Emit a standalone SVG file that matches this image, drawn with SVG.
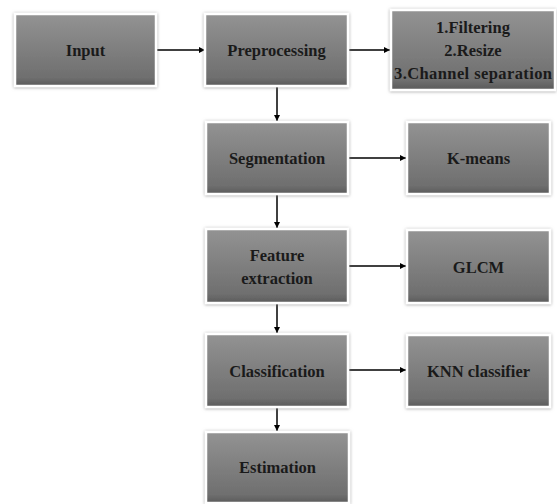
<svg xmlns="http://www.w3.org/2000/svg" width="557" height="504" viewBox="0 0 557 504" font-family="Liberation Serif, Times New Roman, serif" font-weight="bold" font-size="16.5">
<style>
.box{fill:url(#g);stroke:#ffffff;stroke-width:2.5;filter:url(#sh)}
.t{fill:#1a1a1a;text-anchor:middle}
.c{stroke:#000;stroke-width:1.5;fill:none;marker-end:url(#ah)}
</style>
<defs>
<linearGradient id="g" x1="0" y1="0" x2="0" y2="1">
<stop offset="0" stop-color="#939393"/>
<stop offset="0.88" stop-color="#6f6f6f"/>
<stop offset="1" stop-color="#5a5a5a"/>
</linearGradient>
<filter id="sh" x="-10%" y="-10%" width="120%" height="120%">
<feDropShadow dx="0" dy="0.5" stdDeviation="1.8" flood-color="#777" flood-opacity="0.7"/>
</filter>
<marker id="ah" viewBox="0 0 8 8" refX="8" refY="4" markerWidth="6" markerHeight="6" markerUnits="userSpaceOnUse" orient="auto">
<path d="M0,0 L8,4 L0,8 z" fill="#000"/>
</marker>
</defs>
<rect width="557" height="504" fill="#fff"/>
<g id="connectors">
<line class="c" x1="156" y1="50" x2="205" y2="50"/>
<line class="c" x1="348" y1="50" x2="390" y2="50"/>
<line class="c" x1="277" y1="86" x2="277" y2="121"/>
<line class="c" x1="348" y1="158" x2="406" y2="158"/>
<line class="c" x1="277" y1="194" x2="277" y2="228"/>
<line class="c" x1="348" y1="266" x2="406" y2="266"/>
<line class="c" x1="277" y1="303" x2="277" y2="333"/>
<line class="c" x1="348" y1="370" x2="406" y2="370"/>
<line class="c" x1="277" y1="407" x2="277" y2="431"/>
</g>
<g id="input"><rect class="box" x="15" y="14" width="141" height="72"/><text class="t" x="85.5" y="56">Input</text></g>
<g id="preprocessing"><rect class="box" x="205" y="14" width="143" height="72"/><text class="t" x="276.5" y="56">Preprocessing</text></g>
<g id="steps"><rect class="box" x="391" y="10" width="164" height="80"/><text class="t" x="473" y="33">1.Filtering</text><text class="t" x="473" y="56">2.Resize</text><text class="t" x="473" y="79" textLength="158" lengthAdjust="spacing">3.Channel separation</text></g>
<g id="segmentation"><rect class="box" x="206" y="122" width="142" height="72"/><text class="t" x="277" y="164">Segmentation</text></g>
<g id="kmeans"><rect class="box" x="407" y="122" width="143" height="72"/><text class="t" x="478.5" y="164">K-means</text></g>
<g id="feature"><rect class="box" x="206" y="229" width="142" height="74"/><text class="t" x="277" y="261">Feature</text><text class="t" x="277" y="284">extraction</text></g>
<g id="glcm"><rect class="box" x="407" y="230" width="143" height="73"/><text class="t" x="478.5" y="273">GLCM</text></g>
<g id="classification"><rect class="box" x="206" y="334" width="142" height="73"/><text class="t" x="277" y="377">Classification</text></g>
<g id="knn"><rect class="box" x="407" y="335" width="143" height="72"/><text class="t" x="478.5" y="377">KNN classifier</text></g>
<g id="estimation"><rect class="box" x="206" y="432" width="143" height="71"/><text class="t" x="277.5" y="473">Estimation</text></g>
</svg>
